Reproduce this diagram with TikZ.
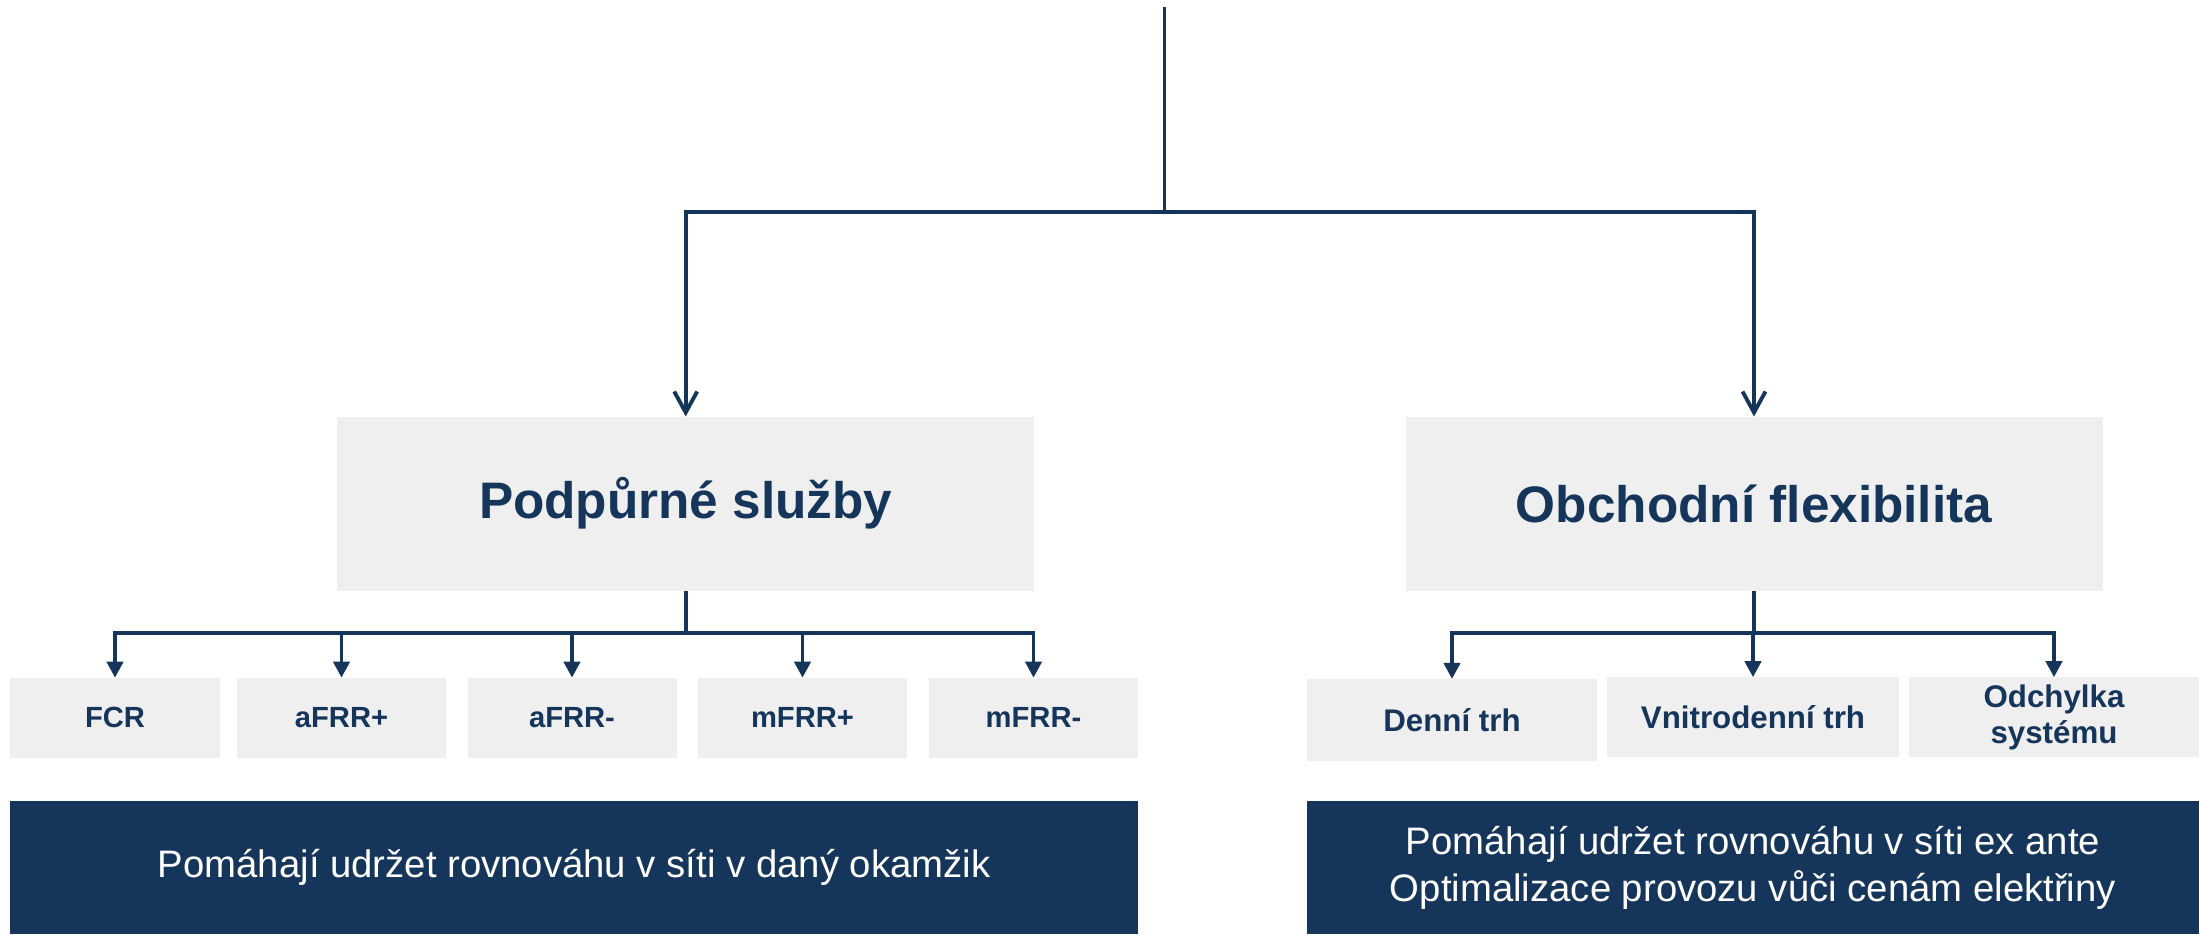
\documentclass[tikz,border=0pt]{standalone}
\usepackage{fontspec}
\setmainfont{Liberation Sans}
\usetikzlibrary{arrows.meta}

\definecolor{navy}{HTML}{16355A}
\definecolor{boxgrey}{HTML}{EFEFEF}

\tikzset{
  mainbox/.style={fill=boxgrey, text=navy, minimum width=6.97cm, minimum height=1.74cm,
    inner sep=0, outer sep=0, font=\bfseries\fontsize{14.6}{17}\selectfont},
  subbox/.style={fill=boxgrey, text=navy, minimum height=0.8cm, inner sep=0, outer sep=0,
    align=center, font=\bfseries\fontsize{8.3}{10.2}\selectfont},
  notebox/.style={fill=navy, text=white, inner sep=0, outer sep=0, align=center,
    font=\fontsize{10.9}{13.4}\selectfont},
  conn/.style={draw=navy, line width=1.1pt},
}

\begin{document}
\begin{tikzpicture}

\useasboundingbox (0, 0) rectangle (21.99, -9.34);

\node[mainbox] (podp) at (6.857, -5.035) {Podpůrné služby};
\node[mainbox] (obch) at (17.54, -5.035) {Obchodní flexibilita};

\node[subbox, minimum width=2.10cm] (fcr) at (1.15, -7.177) {FCR};
\node[subbox, minimum width=2.09cm] (afrrp) at (3.415, -7.177) {aFRR+};
\node[subbox, minimum width=2.09cm] (afrrm) at (5.72, -7.177) {aFRR-};
\node[subbox, minimum width=2.09cm] (mfrrp) at (8.025, -7.177) {mFRR+};
\node[subbox, minimum width=2.09cm] (mfrrm) at (10.335, -7.177) {mFRR-};

\node[subbox, minimum width=2.905cm, minimum height=0.817cm, font=\bfseries\fontsize{8.9}{10.2}\selectfont] (denni) at (14.52, -7.198) {Denní trh};
\node[subbox, minimum width=2.916cm, font=\bfseries\fontsize{8.9}{10.2}\selectfont] (vnitro) at (17.53, -7.172) {Vnitrodenní trh};
\node[subbox, minimum width=2.897cm, font=\bfseries\fontsize{8.9}{10.2}\selectfont] (odch) at (20.54, -7.172) {Odchylka\\systému};

\node[notebox, minimum width=11.277cm, minimum height=1.33cm] (noteL) at (5.7415, -8.675)
  {Pomáhají udržet rovnováhu v síti v daný okamžik};
\node[notebox, minimum width=8.92cm, minimum height=1.33cm] (noteR) at (17.53, -8.675)
  {Pomáhají udržet rovnováhu v síti ex ante\\Optimalizace provozu vůči cenám elektřiny};

\coordinate (top) at (11.645, -0.07);
\coordinate (split) at (11.645, -2.116);
\coordinate (busL) at (6.857, -6.33);
\coordinate (busR) at (17.54, -6.33);

\draw[conn] (top) -- (split);
\draw[conn, -{Straight Barb[length=2.1mm, width=2.3mm]}] (split) -| (podp.north);
\draw[conn, -{Straight Barb[length=2.1mm, width=2.3mm]}] (split) -| (obch.north);

\draw[conn] (podp.south) -- (busL);
\foreach \n in {fcr, afrrp, afrrm, mfrrp, mfrrm}
  \draw[conn, -{Triangle[length=1.6mm, width=1.6mm]}] (busL) -| (\n.north);

\draw[conn] (obch.south) -- (busR);
\foreach \n in {denni, vnitro, odch}
  \draw[conn, -{Triangle[length=1.6mm, width=1.6mm]}] (busR) -| (\n.north);

\end{tikzpicture}
\end{document}
